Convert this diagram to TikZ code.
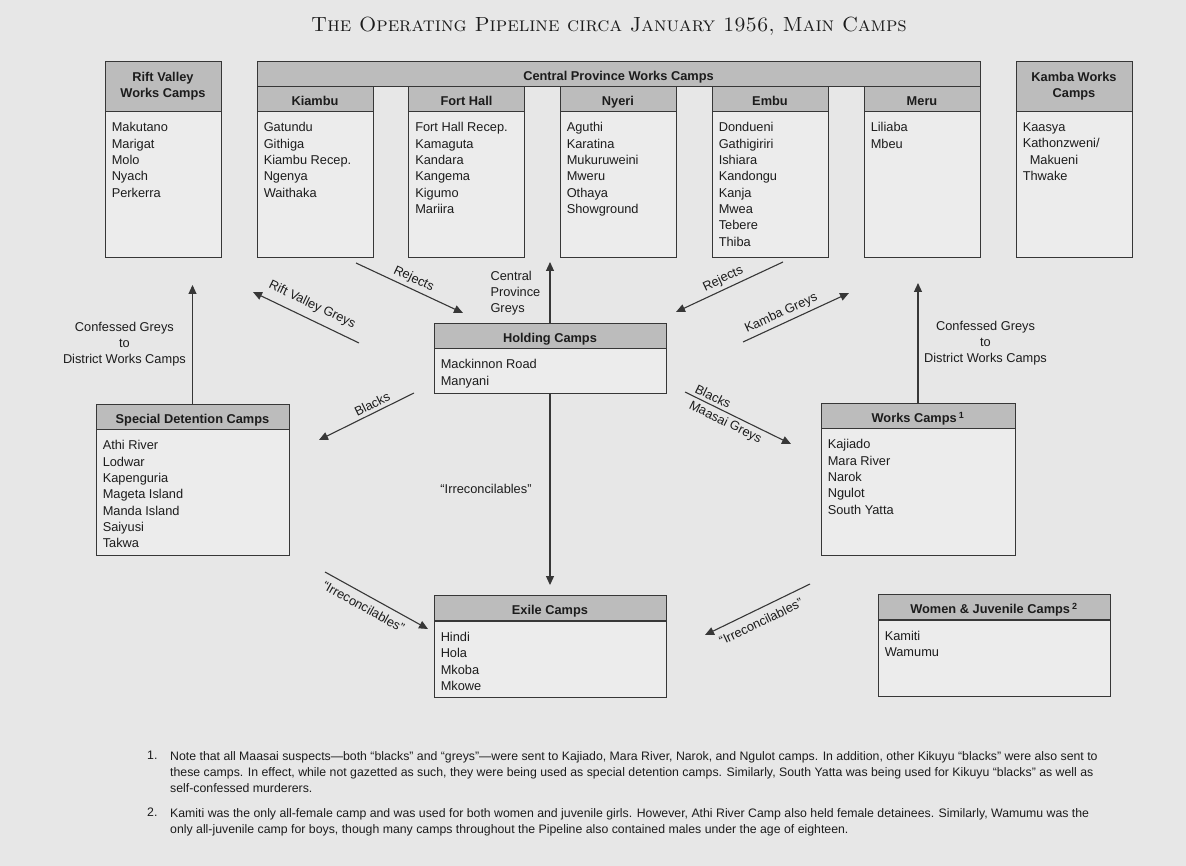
\documentclass[tikz,border=0pt]{standalone}
\usepackage{fontspec}
\newfontfamily\arial{Liberation Sans}
\usepackage{tikz}
\usetikzlibrary{arrows.meta}
\usetikzlibrary{positioning}
\definecolor{paper}{RGB}{231,231,231}
\definecolor{boxfill}{RGB}{236,236,236}
\definecolor{headfill}{RGB}{188,188,188}
\definecolor{linec}{RGB}{55,55,55}
\definecolor{inkc}{RGB}{28,28,28}

\begin{document}
\begin{tikzpicture}[x=1pt,y=-1pt]
    \tikzstyle{every node}=[font=\arial\fontsize{12.8}{16.3}\selectfont, text=inkc]
    \tikzstyle{hd} = [draw=linec, fill=headfill, line width=0.9pt, inner sep=0pt, minimum height=25pt, align=center, font=\arial\bfseries\fontsize{12.8}{16.3}\selectfont]
    \tikzstyle{hdl} = [hd, text height=13.8pt, text depth=0pt]
    \tikzstyle{bd} = [draw=linec, fill=boxfill, line width=0.9pt, inner sep=0pt]
    \tikzstyle{it} = [align=left, inner sep=0pt]
    \tikzstyle{ar} = [draw=linec, line width=1.1pt, -{Triangle[length=9pt,width=8pt]}]
    \tikzstyle{ra} = [draw=linec, line width=1.1pt, {Triangle[length=9pt,width=8pt]}-]
    \tikzstyle{fn} = [inner sep=0pt, align=left, anchor=north west, font=\arial\fontsize{12.3}{16.3}\selectfont]
    \fill [paper] (0,0) rectangle (1186,866);
    \useasboundingbox (0,0) rectangle (1186,866);
    \node [font=\rmfamily\fontsize{20.5}{20.5}\selectfont] (title) at (609,26) {\textsc{The Operating Pipeline circa January 1956, Main Camps}};
    % top row
    \node [hd, minimum width=116pt, minimum height=50pt] (rift) at (163,86) {Rift Valley\\Works Camps};
    \node [bd, minimum width=116pt, minimum height=146pt, below=0pt of rift] (riftb) {};
    \node [it, below right=11pt and 7pt of riftb.north west] (riftl) {Makutano\\Marigat\\Molo\\Nyach\\Perkerra};
    \node [hdl, minimum width=723pt] (cpw) at (618.5,73.5) {Central Province Works Camps};
    \node [hdl, minimum width=116pt] (kiambu) at (315,98.5) {Kiambu};
    \node [bd, minimum width=116pt, minimum height=146pt, below=0pt of kiambu] (kiambub) {};
    \node [it, below right=11pt and 7pt of kiambub.north west] (kiambul) {Gatundu\\Githiga\\Kiambu Recep.\\Ngenya\\Waithaka};
    \node [hdl, minimum width=116pt] (forthall) at (466.5,98.5) {Fort Hall};
    \node [bd, minimum width=116pt, minimum height=146pt, below=0pt of forthall] (forthallb) {};
    \node [it, below right=11pt and 7pt of forthallb.north west] (forthalll) {Fort Hall Recep.\\Kamaguta\\Kandara\\Kangema\\Kigumo\\Mariira};
    \node [hdl, minimum width=116pt] (nyeri) at (618,98.5) {Nyeri};
    \node [bd, minimum width=116pt, minimum height=146pt, below=0pt of nyeri] (nyerib) {};
    \node [it, below right=11pt and 7pt of nyerib.north west] (nyeril) {Aguthi\\Karatina\\Mukuruweini\\Mweru\\Othaya\\Showground};
    \node [hdl, minimum width=116pt] (embu) at (770,98.5) {Embu};
    \node [bd, minimum width=116pt, minimum height=146pt, below=0pt of embu] (embub) {};
    \node [it, below right=11pt and 7pt of embub.north west] (embul) {Dondueni\\Gathigiriri\\Ishiara\\Kandongu\\Kanja\\Mwea\\Tebere\\Thiba};
    \node [hdl, minimum width=116pt] (meru) at (922,98.5) {Meru};
    \node [bd, minimum width=116pt, minimum height=146pt, below=0pt of meru] (merub) {};
    \node [it, below right=11pt and 7pt of merub.north west] (merul) {Liliaba\\Mbeu};
    \node [hd, minimum width=116pt, minimum height=50pt] (kamba) at (1074,86) {Kamba Works\\Camps};
    \node [bd, minimum width=116pt, minimum height=146pt, below=0pt of kamba] (kambab) {};
    \node [it, below right=11pt and 7pt of kambab.north west] (kambal) {Kaasya\\Kathonzweni/\\\hspace*{7pt}Makueni\\Thwake};
    % middle row
    \node [hdl, minimum width=232pt] (hold) at (550,335.5) {Holding Camps};
    \node [bd, minimum width=232pt, minimum height=45pt, below=0pt of hold] (holdb) {};
    \node [it, below right=11pt and 7pt of holdb.north west] (holdl) {Mackinnon Road\\Manyani};
    \node [hdl, minimum width=193pt] (sdc) at (192.5,416.5) {Special Detention Camps};
    \node [bd, minimum width=193pt, minimum height=126pt, below=0pt of sdc] (sdcb) {};
    \node [it, below right=11pt and 7pt of sdcb.north west] (sdcl) {Athi River\\Lodwar\\Kapenguria\\Mageta Island\\Manda Island\\Saiyusi\\Takwa};
    \node [hdl, minimum width=194pt] (works) at (918,415.5) {Works Camps\,\textsuperscript{1}};
    \node [bd, minimum width=194pt, minimum height=127pt, below=0pt of works] (worksb) {};
    \node [it, below right=11pt and 7pt of worksb.north west] (worksl) {Kajiado\\Mara River\\Narok\\Ngulot\\South Yatta};
    % bottom row
    \node [hdl, minimum width=232pt] (exile) at (550,608) {Exile Camps};
    \node [bd, minimum width=232pt, minimum height=76pt, below=0pt of exile] (exileb) {};
    \node [it, below right=11pt and 7pt of exileb.north west] (exilel) {Hindi\\Hola\\Mkoba\\Mkowe};
    \node [hdl, minimum width=232pt] (women) at (994,607) {Women \& Juvenile Camps\,\textsuperscript{2}};
    \node [bd, minimum width=232pt, minimum height=76pt, below=0pt of women] (womenb) {};
    \node [it, below right=11pt and 7pt of womenb.north west] (womenl) {Kamiti\\Wamumu};
    % vertical flows
    \coordinate (sdcup) at (192.5,285);
    \draw [ar] (sdc.north) -- (sdcup);
    \node [align=center] (sdcgrey) at (124.4,344) {Confessed Greys\\to\\District Works Camps};
    \coordinate (holdup) at (550,262);
    \draw [ar] (hold.north) -- (holdup);
    \node [align=left, anchor=west] (cpgrey) at (487,293) {Central\\Province\\Greys};
    \draw [ar, shorten >=10pt] (holdb.south) -- (exile.north);
    \node (irrmid) at (486,489) {“Irreconcilables”};
    \coordinate (worksup) at (918,283);
    \draw [ar] (works.north) -- (worksup);
    \node [align=center] (worksgrey) at (985.5,343) {Confessed Greys\\to\\District Works Camps};
    % slanted flows
    \coordinate (rejl1) at (356,263);
    \coordinate (rejl2) at (463,313);
    \draw [ar] (rejl1) -- node [sloped, above] {Rejects} (rejl2);
    \coordinate (rvg1) at (253,292);
    \coordinate (rvg2) at (359,343);
    \draw [ra] (rvg1) -- node [sloped, above=4pt] {Rift Valley Greys} (rvg2);
    \coordinate (blk1) at (319,440);
    \coordinate (blk2) at (414,393);
    \draw [ra] (blk1) -- node [sloped, above, pos=0.6] {Blacks} (blk2);
    \coordinate (rejr1) at (676,312);
    \coordinate (rejr2) at (783,262);
    \draw [ra] (rejr1) -- node [sloped, above, pos=0.48] {Rejects} (rejr2);
    \coordinate (kg1) at (743,342);
    \coordinate (kg2) at (849,293);
    \draw [ar] (kg1) -- node [sloped, above, pos=0.4] {Kamba Greys} (kg2);
    \coordinate (mg1) at (685,392);
    \coordinate (mg2) at (791,444);
    \draw [ar] (mg1) -- node [sloped, above, pos=0.23] {Blacks} node [sloped, below, pos=0.42] {Maasai Greys} (mg2);
    \coordinate (irl1) at (325,572);
    \coordinate (irl2) at (428,629);
    \draw [ar] (irl1) -- node [sloped, below=3pt, pos=0.43] {“Irreconcilables”} (irl2);
    \coordinate (irr1) at (705,635);
    \coordinate (irr2) at (810,584);
    \draw [ra] (irr1) -- node [sloped, below=4pt, pos=0.48] {“Irreconcilables”} (irr2);
    % notes
    \node [fn] (fn1n) at (147,751) {1.};
    \node [fn] (fn1) at (170,751) {Note that all Maasai suspects—both “blacks” and “greys”—were sent to Kajiado, Mara River, Narok, and Ngulot camps. In addition, other Kikuyu “blacks” were also sent to\\these camps. In effect, while not gazetted as such, they were being used as special detention camps. Similarly, South Yatta was being used for Kikuyu “blacks” as well as\\self-confessed murderers.};
    \node [fn] (fn2n) at (147,808) {2.};
    \node [fn] (fn2) at (170,808) {Kamiti was the only all-female camp and was used for both women and juvenile girls. However, Athi River Camp also held female detainees. Similarly, Wamumu was the\\only all-juvenile camp for boys, though many camps throughout the Pipeline also contained males under the age of eighteen.};
\end{tikzpicture}
\end{document}
